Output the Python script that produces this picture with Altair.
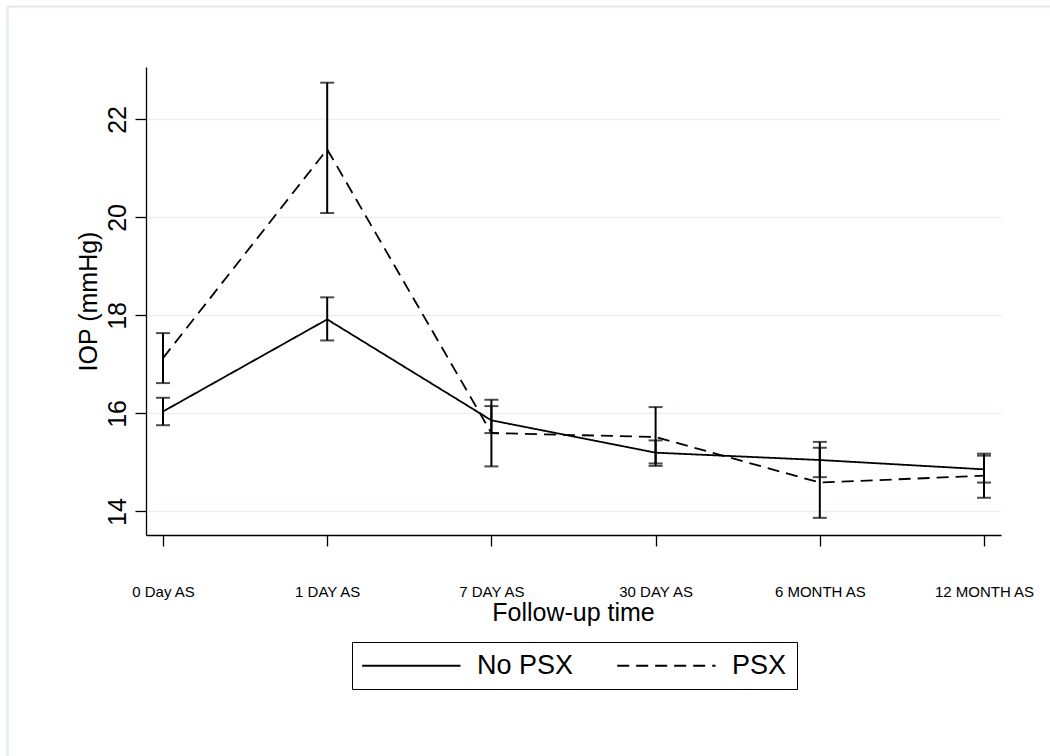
import altair as alt
import pandas as pd

categories = ["0 Day AS", "1 DAY AS", "7 DAY AS", "30 DAY AS", "6 MONTH AS", "12 MONTH AS"]
groups = ["No PSX", "PSX"]

nopsx_mean = [16.04, 17.92, 15.86, 15.20, 15.05, 14.86]
nopsx_lo = [15.76, 17.49, 15.60, 14.98, 14.70, 14.59]
nopsx_hi = [16.32, 18.37, 16.15, 15.45, 15.42, 15.14]

psx_mean = [17.13, 21.39, 15.60, 15.52, 14.59, 14.73]
psx_lo = [16.62, 20.09, 14.92, 14.93, 13.87, 14.28]
psx_hi = [17.64, 22.75, 16.28, 16.13, 15.30, 15.18]

y_ticks = [14, 16, 18, 20, 22]

rows = []
for g, m, lo, hi in [(groups[0], nopsx_mean, nopsx_lo, nopsx_hi),
                     (groups[1], psx_mean, psx_lo, psx_hi)]:
    for c, a, b, d in zip(categories, m, lo, hi):
        rows.append({"time": c, "group": g, "mean": a, "lo": b, "hi": d})
df = pd.DataFrame(rows)

FONT = "Liberation Sans"
XT = "Follow-up time"
YT = "IOP (mmHg)"

xscale = alt.Scale(type="point", padding=0.1035)
yscale = alt.Scale(domain=[13.52, 23.07], nice=False, zero=False)
yaxis = alt.Axis(values=y_ticks)

def X():
    return alt.X("time:N", sort=categories, scale=xscale, title=XT)

base = alt.Chart(df)

lines = base.mark_line(color="black", strokeWidth=1.8).encode(
    x=X(),
    y=alt.Y("mean:Q", scale=yscale, title=YT, axis=yaxis),
    strokeDash=alt.StrokeDash(
        "group:N",
        scale=alt.Scale(domain=groups, range=[[1, 0], [12, 7]]),
        legend=alt.Legend(
            title=None,
            orient="none",
            legendX=206,
            legendY=575,
            direction="horizontal",
            symbolType="M-1.33,0H8.5",
            symbolSize=400,
            symbolStrokeWidth=1.8,
            symbolStrokeColor="black",
            labelFontSize=27,
            labelFont=FONT,
            labelColor="black",
            labelOffset=88,
            columnPadding=39,
            padding=10,
            strokeColor="black",
        ),
    ),
)

rules = base.mark_rule(color="black", strokeWidth=2).encode(
    x=X(),
    y=alt.Y("lo:Q", scale=yscale, title=YT, axis=yaxis),
    y2="hi:Q",
)
caps_lo = base.mark_tick(color="black", size=14, thickness=2, orient="horizontal").encode(
    x=X(), y=alt.Y("lo:Q", scale=yscale, title=YT, axis=yaxis)
)
caps_hi = base.mark_tick(color="black", size=14, thickness=2, orient="horizontal").encode(
    x=X(), y=alt.Y("hi:Q", scale=yscale, title=YT, axis=yaxis)
)

frame_df = pd.DataFrame({"k": [0]})
frame_top = alt.Chart(frame_df).mark_rule(color="#e6eef0", strokeWidth=2.5).encode(
    x=alt.value(-139), x2=alt.value(1000), y=alt.value(-60.5), y2=alt.value(-60.5)
)
frame_left = alt.Chart(frame_df).mark_rule(color="#e6eef0", strokeWidth=2.5).encode(
    x=alt.value(-138.5), x2=alt.value(-138.5), y=alt.value(-61), y2=alt.value(700)
)

chart = alt.layer(frame_top, frame_left, lines, rules, caps_lo, caps_hi).properties(
    width=855,
    height=468,
    autosize=alt.AutoSizeParams(type="none"),
    padding={"left": 146, "top": 67, "right": 49, "bottom": 221},
    background="white",
).configure_view(stroke=None).configure_axisX(
    labelAngle=0,
    labelFont=FONT,
    labelFontSize=15,
    labelColor="black",
    labelBaseline="alphabetic",
    labelPadding=50,
    tickSize=11,
    tickColor="black",
    tickWidth=1.3,
    domainColor="black",
    domainWidth=1.3,
    grid=False,
    titleFont=FONT,
    titleFontSize=25,
    titleFontWeight="normal",
    titleColor="black",
    titleBaseline="alphabetic",
    titleAnchor="middle",
    titleX=427,
    titleY=85,
).configure_axisY(
    labelAngle=270,
    labelAlign="center",
    labelBaseline="alphabetic",
    labelFont=FONT,
    labelFontSize=25,
    labelColor="black",
    labelPadding=10,
    tickSize=11,
    tickColor="black",
    tickWidth=1.3,
    domainColor="black",
    domainWidth=1.3,
    grid=True,
    gridColor="#e8f0f2",
    gridWidth=1.5,
    titleFont=FONT,
    titleFontSize=25,
    titleFontWeight="normal",
    titleColor="black",
    titleAngle=270,
    titleAlign="center",
    titleBaseline="alphabetic",
    titleX=-50,
    titleY=234,
)

chart.save("out.html", embed_options={"renderer": "svg", "actions": False})
